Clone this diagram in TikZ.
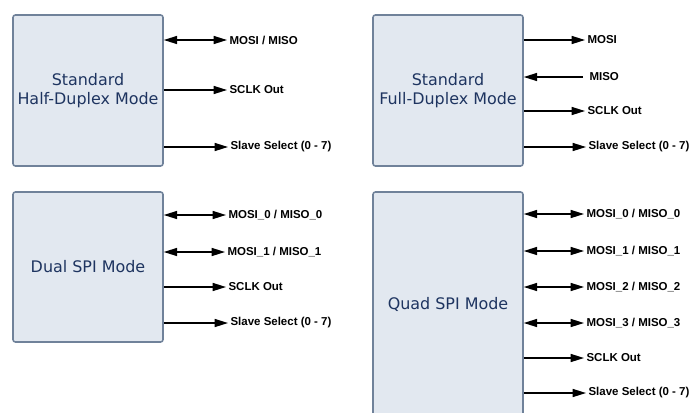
\documentclass[tikz,border=0pt]{standalone}
\usepackage{fontspec}
\setmainfont{Liberation Sans}
\newfontfamily\boxfont{DejaVu Sans}
\usetikzlibrary{arrows.meta}
\definecolor{modefill}{RGB}{226,232,240}
\definecolor{modeedge}{RGB}{112,130,154}
\definecolor{modetext}{RGB}{30,52,96}
\begin{document}
\begin{tikzpicture}[x=0.03cm, y=-0.03cm]
        \tikzstyle{mode}=[draw=modeedge, line width=1.3pt, fill=modefill, rounded corners=2pt, minimum width=4.5cm, text=modetext, font=\boxfont\fontsize{13.6}{16.5}\selectfont, align=center]
        \tikzstyle{sig}=[anchor=west, inner sep=0pt, inner xsep=2pt, font=\bfseries\fontsize{9.8}{11}\selectfont]
        \tikzstyle{wire}=[line width=1.2pt, -{Triangle[length=0.4cm, width=0.24cm]}]
        \tikzstyle{bidir}=[line width=1.2pt, {Triangle[length=0.4cm, width=0.24cm]}-{Triangle[length=0.4cm, width=0.24cm]}]
        \clip (0,0) rectangle (694,412);

        % half duplex
        \node[mode, minimum height=4.53cm] (half) at (88,90.5) {Standard\\Half-Duplex Mode};
        \node[sig] (half0) at (227,40) {MOSI / MISO};
        \node[sig] (halfclk) at (227,90) {SCLK Out};
        \node[sig] (halfss) at (228,147) {Slave Select (0 - 7)};
        \draw[bidir] (half.east |- half0) -- (half0.west);
        \draw[wire] (half.east |- halfclk) -- (halfclk.west);
        \draw[wire] (half.east |- halfss) -- (halfss.west);

        % full duplex
        \node[mode, minimum height=4.53cm] (full) at (448,90.5) {Standard\\Full-Duplex Mode};
        \node[sig] (fullmosi) at (585,40) {MOSI};
        \node[sig] (fullmiso) at (587,77) {MISO};
        \node[sig] (fullclk) at (585,111) {SCLK Out};
        \node[sig] (fullss) at (586,147) {Slave Select (0 - 7)};
        \coordinate (misoend) at (583,77);
        \draw[wire] (full.east |- fullmosi) -- (fullmosi.west);
        \draw[wire] (misoend) -- (full.east |- misoend);
        \draw[wire] (full.east |- fullclk) -- (fullclk.west);
        \draw[wire] (full.east |- fullss) -- (fullss.west);

        % dual
        \node[mode, minimum height=4.5cm] (dual) at (88,267) {Dual SPI Mode};
        \node[sig] (dual0) at (226,215) {MOSI\_0 / MISO\_0};
        \node[sig] (dual1) at (225,252) {MOSI\_1 / MISO\_1};
        \node[sig] (dualclk) at (226,287) {SCLK Out};
        \node[sig] (dualss) at (228,323) {Slave Select (0 - 7)};
        \draw[bidir] (dual.east |- dual0) -- (dual0.west);
        \draw[bidir] (dual.east |- dual1) -- (dual1.west);
        \draw[wire] (dual.east |- dualclk) -- (dualclk.west);
        \draw[wire] (dual.east |- dualss) -- (dualss.west);

        % quad
        \node[mode, minimum height=6.72cm] (quad) at (448,304) {Quad SPI Mode};
        \foreach \i/\y in {0/214, 1/251, 2/287, 3/323} {
            \node[sig] (quad\i) at (584,\y) {MOSI\_\i\ / MISO\_\i};
            \draw[bidir] (quad.east |- quad\i) -- (quad\i.west);
        }
        \node[sig] (quadclk) at (584,358) {SCLK Out};
        \node[sig] (quadss) at (586,393) {Slave Select (0 - 7)};
        \draw[wire] (quad.east |- quadclk) -- (quadclk.west);
        \draw[wire] (quad.east |- quadss) -- (quadss.west);
    \end{tikzpicture}
\end{document}
